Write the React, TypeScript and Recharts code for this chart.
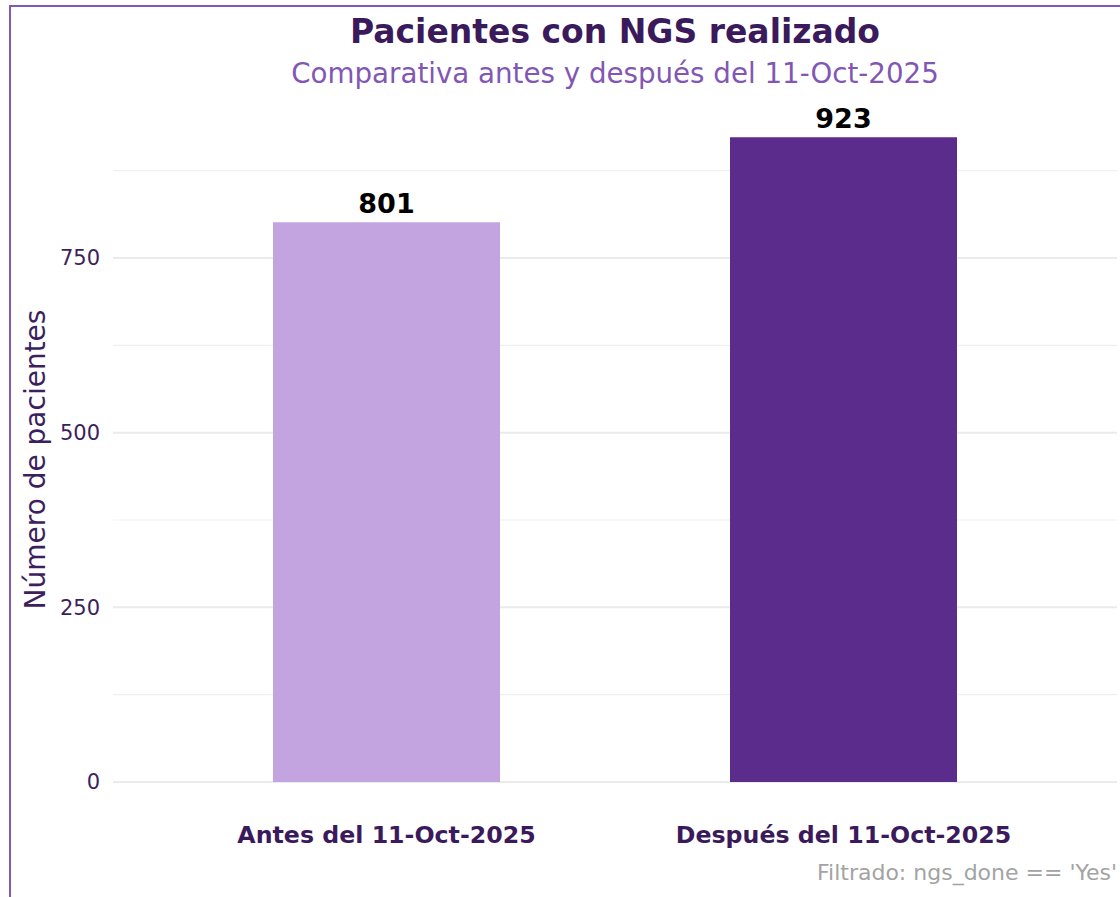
import { Bar, BarChart, CartesianGrid, Cell, LabelList, XAxis, YAxis } from "recharts";

const categories = ["Antes del 11-Oct-2025", "Después del 11-Oct-2025"];
const patients = [801, 923];
const barColors = ["#C3A4E0", "#5B2C8C"];
const majorTicks = [0, 250, 500, 750];
const minorTicks = [125, 375, 625, 875];

const data = categories.map((name, i) => ({ name, value: patients[i] }));

const FONT = "'DejaVu Sans', sans-serif";

function YLabel({ viewBox }: any) {
  const cx = viewBox.x + 2;
  const cy = viewBox.y + viewBox.height / 2 + 16;
  return (
    <text
      x={0}
      y={0}
      transform={`translate(${cx}, ${cy}) rotate(-90)`}
      textAnchor="middle"
      dominantBaseline="central"
      fill="#3d1f5e"
      fontSize={28}
      fontFamily={FONT}
    >
      Número de pacientes
    </text>
  );
}

export default function App() {
  return (
    <div
      style={{
        position: "absolute",
        left: 0,
        top: 0,
        width: 1120,
        height: 897,
        overflow: "hidden",
        background: "#fff",
        fontFamily: FONT,
      }}
    >
      <div
        style={{
          position: "absolute",
          left: 9,
          top: 5,
          width: 1200,
          height: 1000,
          border: "2px solid #8456b9",
          boxSizing: "border-box",
        }}
      />
      <div
        style={{
          position: "absolute",
          left: 0,
          width: 1230,
          top: 12,
          textAlign: "center",
          fontSize: 33,
          fontWeight: "bold",
          color: "#3b1a5c",
          lineHeight: "40px",
        }}
      >
        Pacientes con NGS realizado
      </div>
      <div
        style={{
          position: "absolute",
          left: 0,
          width: 1230,
          top: 56,
          textAlign: "center",
          fontSize: 27.7,
          color: "#8257b4",
          lineHeight: "36px",
        }}
      >
        Comparativa antes y después del 11-Oct-2025
      </div>
      <BarChart
        width={1120}
        height={897}
        data={data}
        margin={{ top: 105, right: 3, bottom: 0, left: 33 }}
        style={{ position: "absolute", left: 0, top: 0 }}
      >
        <CartesianGrid
          vertical={false}
          horizontalValues={minorTicks}
          stroke="#efefef"
          strokeWidth={1.2}
        />
        <CartesianGrid
          vertical={false}
          horizontalValues={majorTicks}
          stroke="#ebebeb"
          strokeWidth={2}
        />
        <XAxis
          dataKey="name"
          height={115}
          padding={{ left: 45, right: 45 }}
          axisLine={false}
          tickLine={false}
          tickMargin={38}
          tick={{ fill: "#3b1a5c", fontSize: 23.7, fontWeight: "bold", fontFamily: FONT }}
        />
        <YAxis
          width={80}
          domain={[0, 969]}
          ticks={majorTicks}
          axisLine={false}
          tickLine={false}
          tickMargin={7}
          tick={{ fill: "#3d1f5e", fontSize: 21, fontFamily: FONT }}
          label={<YLabel />}
        />
        <Bar dataKey="value" barSize={227} isAnimationActive={false}>
          {data.map((d, i) => (
            <Cell key={d.name} fill={barColors[i]} />
          ))}
          <LabelList
            dataKey="value"
            position="top"
            offset={9}
            fill="#000"
            fontSize={27}
            fontWeight="bold"
            fontFamily={FONT}
          />
        </Bar>
      </BarChart>
      <div
        style={{
          position: "absolute",
          right: 3,
          top: 858,
          fontSize: 22,
          color: "#a3a3a3",
          lineHeight: "30px",
          whiteSpace: "nowrap",
        }}
      >
        Filtrado: ngs_done == 'Yes'
      </div>
    </div>
  );
}
